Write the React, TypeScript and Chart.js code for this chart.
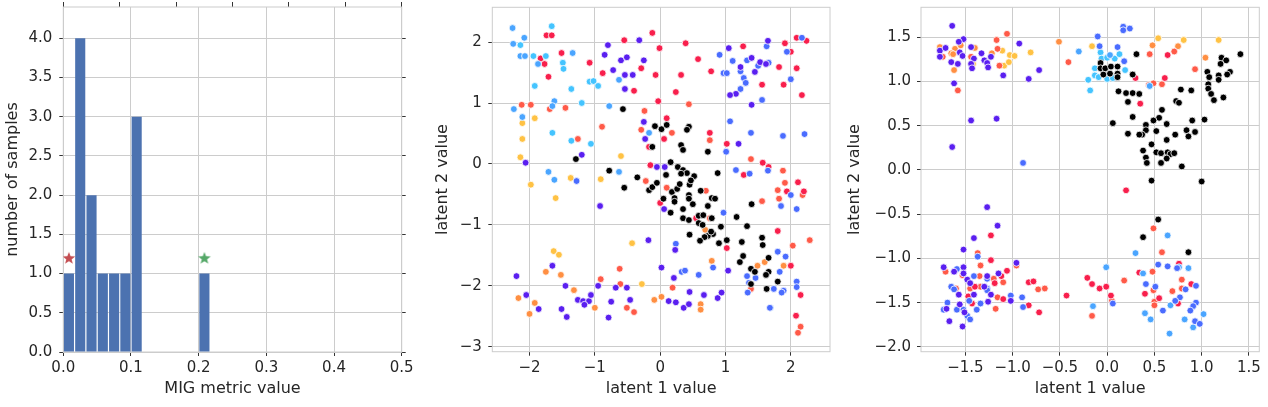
import React, { useEffect, useRef } from "react";
import { Chart, registerables } from "chart.js";

Chart.register(...registerables);

type Pt = [number, number];

// ---------- Panel 1: histogram of MIG metric values ----------
const migBinCenters = [0.0083, 0.025, 0.0417, 0.0584, 0.0751, 0.0917, 0.1084, 0.1251, 0.1418, 0.1585, 0.1751, 0.1918, 0.2085];
const migCounts = [1, 4, 2, 1, 1, 1, 3, 0, 0, 0, 0, 0, 1];
const migStarX = [0.0083, 0.2085];
const migStarY = [1.2, 1.2];
const migXTicks = [0, 0.1, 0.2, 0.3, 0.4, 0.5];
const migYTicks = [0, 0.5, 1, 1.5, 2, 2.5, 3, 3.5, 4];

// ---------- Panel 2: latent space (first model) ----------
const p2Ticks = [-3, -2, -1, 0, 1, 2];
const p2XTicks = [-2, -1, 0, 1, 2];
const p2Black: Pt[] = [
  [-0.57, 0.9], [-0.08, 0.62], [0.02, 0.57], [-0.12, 0.28], [-1.29, 0.08], [-0.78, -0.11], [-0.35, -0.22],
  [0.1, 0.64], [0.44, 0.61], [0.41, 0.56], [0.32, 0.31], [0.35, 0.23], [0.73, 0.2], [0.16, 0.03], [0.27, -0.05],
  [0.35, -0.1], [0.41, -0.15], [0.52, -0.2], [0.88, -0.15], [0.09, -0.18], [0.32, -0.16],
  [-0.55, -0.39], [-0.17, -0.43], [-0.12, -0.38], [-0.05, -0.31],
  [0.18, -0.46], [0.26, -0.41], [0.3, -0.33], [0.45, -0.34], [0.47, -0.27], [0.05, -0.57], [0.22, -0.56],
  [0.22, -0.62], [0.44, -0.51], [0.44, -0.57], [0.5, -0.66], [0.62, -0.44], [0.79, -0.56], [0.84, -0.57],
  [0.16, -0.8], [0.35, -0.74], [0.35, -0.89], [0.44, -0.92], [0.73, -0.69], [0.59, -0.85], [0.66, -0.84],
  [0.79, -0.89], [0.59, -0.97], [0.65, -1.0], [0.93, -1.03], [0.81, -1.15], [0.73, -1.18], [0.68, -1.2],
  [0.78, -1.11], [0.45, -1.16], [0.61, -1.26], [1.17, -0.87], [1.4, -0.66], [1.33, -1.02], [1.02, -1.25],
  [0.9, -1.3], [1.25, -1.28], [1.56, -1.21], [1.57, -1.33], [1.27, -1.51], [1.22, -1.61], [1.66, -1.54],
  [1.39, -1.72], [1.45, -1.77], [1.66, -1.77], [1.62, -1.82], [1.39, -1.97], [1.63, -2.05], [1.8, -1.93],
];
const p2Violet: Pt[] = [
  [-0.8, 1.95], [-0.85, 1.79], [-0.32, 2.03], [-0.72, 1.54], [-0.6, 1.7], [-0.51, 1.75], [-0.54, 1.46],
  [-0.42, 1.46], [-0.25, 1.7], [-0.54, 1.23], [-0.25, 0.69], [-0.23, 0.41], [-2.06, 0.02], [-1.2, 0.15],
  [-0.05, -0.05], [1.05, 1.9], [1.65, 2.02], [1.4, 1.74], [1.53, 1.67], [1.62, 1.64], [1.23, 1.59],
  [1.45, 1.51], [1.16, 1.15], [1.07, 1.13], [1.4, 0.97], [1.2, 0.33], [0.07, -0.05],
  [-0.92, -0.69], [-0.18, -1.25], [0.02, -1.7], [-1.65, -1.67], [-2.2, -1.84], [-1.45, -2.0], [-0.95, -2.0],
  [-0.68, -2.03], [-0.51, -2.03], [-2.05, -2.15], [-1.86, -2.38], [-1.51, -2.38], [-1.43, -2.51],
  [-1.26, -2.23], [-1.18, -2.25], [-1.09, -2.25], [-1.16, -2.31], [-1.06, -2.15], [-0.75, -2.26],
  [-0.79, -2.52], [-0.46, -2.23], [0.06, -0.74], [0.23, -1.41], [0.21, -1.87], [1.04, -1.75], [0.13, -2.25],
  [0.24, -2.27], [0.45, -2.1], [0.67, -2.15], [0.36, -2.36], [0.44, -2.3], [0.88, -2.2], [0.94, -2.11],
];
const p2Blue: Pt[] = [
  [1.63, 1.93], [2.17, 2.07], [1.94, 1.84], [0.91, 1.79], [1.11, 1.69], [1.33, 1.7], [1.5, 1.61], [1.66, 1.66],
  [1.23, 1.52], [0.97, 1.49], [1.02, 1.49], [1.28, 1.41], [1.31, 1.33], [1.23, 1.23], [2.0, 1.39], [1.56, 1.05],
  [1.07, 0.7], [1.01, 0.2], [1.39, 0.51], [1.88, 0.46], [2.21, 0.49], [1.65, -0.11], [1.16, -0.1], [1.37, -0.16],
  [-1.28, -0.28], [0.97, -0.8], [2.0, -0.51], [1.85, -0.69], [2.09, -0.74], [1.8, -1.44], [1.92, -1.52],
  [1.83, -1.77], [1.33, -1.84], [1.46, -1.87], [1.36, -1.95], [1.34, -2.11], [1.74, -2.05], [1.89, -2.08],
  [1.86, -2.11], [2.09, -1.93], [2.09, -2.02], [1.68, -2.36], [0.24, -1.31], [0.33, -1.77], [0.38, -1.75],
  [0.59, -1.82], [0.81, -1.7],
];
const p2SkyBlue: Pt[] = [
  [-2.26, 2.23], [-2.08, 2.07], [-2.25, 1.97], [-2.14, 1.77], [-2.07, 1.77], [-1.87, 1.64], [-1.34, 1.82],
  [-0.63, 1.38], [-2.24, 0.9], [-1.62, 1.03], [-1.65, 0.95], [-0.78, 0.95], [-2.11, 0.77], [-0.17, 0.51],
  [-0.63, -0.13], [-1.71, -0.13], [-1.62, -0.26], [1.69, -2.36],
];
const p2Cyan: Pt[] = [
  [-1.66, 2.26], [-2.14, 1.95], [-1.94, 1.77], [-1.75, 1.77], [-1.49, 1.66], [-1.48, 1.56], [-1.92, 1.28],
  [-1.36, 1.23], [-1.08, 1.35], [-1.02, 1.36], [-0.95, 1.28], [-1.2, 1.0], [-1.65, 0.51], [-1.36, 0.38],
  [-1.06, 0.33],
];
const p2Crimson: Pt[] = [
  [-1.83, 1.73], [-1.77, 1.64], [-1.74, 2.11], [-1.66, 2.11], [-1.51, 1.82], [-1.71, 1.43], [-1.08, 1.66],
  [-0.88, 1.49], [-0.55, 2.03], [-0.12, 2.15], [-0.01, 1.9], [-0.29, 1.57], [-0.4, 1.2], [-0.07, 1.46],
  [-0.03, 1.03], [-0.17, 0.28], [-0.15, -0.02], [0.39, 1.98], [0.58, 1.72], [0.78, 1.52], [0.32, 1.46],
  [0.24, 1.18], [1.27, 1.93], [1.91, 1.98], [2.09, 2.07], [2.24, 2.02], [2.0, 1.84], [1.82, 1.59], [2.09, 1.57],
  [1.56, 1.3], [1.89, 1.3], [2.17, 1.13], [0.1, 0.75], [0.06, 0.41], [0.76, 0.51], [1.02, 0.33], [1.57, 0.02],
  [1.66, -0.05], [1.28, -0.18], [0.0, -0.64], [0.55, -0.89], [1.02, -1.38], [2.11, -0.3], [1.94, -0.45],
  [2.2, -0.45], [1.8, -1.1], [2.0, -1.67], [2.15, -2.15], [2.08, -2.49],
];
const p2Tomato: Pt[] = [
  [-2.12, 0.97], [-1.98, 0.97], [-1.69, 0.9], [-1.45, 0.92], [-0.24, 0.87], [-0.29, 0.56], [-0.89, 0.61],
  [-1.26, 0.41], [0.44, 0.98], [0.18, 0.51], [0.76, 0.39], [1.39, 0.08], [1.88, -0.11], [-0.22, -0.28],
  [-0.91, -1.89], [-0.62, -1.72], [-0.61, -1.97], [-0.51, -2.36], [-0.4, -2.43], [0.1, -0.39], [0.7, -0.44],
  [0.76, -0.89], [1.56, -0.61], [1.8, -0.43], [1.91, -0.31], [1.82, -0.57], [2.18, -0.51], [2.29, -1.25],
  [2.03, -1.34], [1.39, -2.05], [0.19, -2.03], [2.15, -2.67], [2.11, -2.77],
];
const p2Orange: Pt[] = [
  [-1.75, -1.77], [-1.52, -1.82], [-1.32, -2.07], [-2.17, -2.2], [-1.92, -2.28], [-2.0, -2.46], [-1.0, -2.36],
  [-0.09, -2.23], [0.02, -2.18], [0.69, -1.08], [1.6, -1.61], [1.89, -1.67], [1.49, -1.67], [0.79, -1.59],
  [0.62, -2.3], [0.62, -2.39],
];
const p2Gold: Pt[] = [
  [-2.11, 0.67], [-1.92, 0.75], [-2.11, 0.41], [-2.14, 0.11], [-0.6, 0.13], [-1.98, -0.34], [-1.37, -0.23],
  [-0.91, -0.25], [-1.6, -0.56], [-0.43, -1.3], [-1.63, -1.43], [-1.55, -1.49], [-0.28, -1.97],
];

// ---------- Panel 3: latent space (second model) ----------
const p3XTicks = [-1.5, -1, -0.5, 0, 0.5, 1, 1.5];
const p3YTicks = [-2, -1.5, -1, -0.5, 0, 0.5, 1, 1.5];
const p3Black: Pt[] = [
  [0.31, 1.31], [1.21, 1.27], [1.26, 1.24], [1.2, 1.2], [1.41, 1.31], [1.3, 1.11], [1.27, 1.08], [1.06, 1.11],
  [1.08, 1.05], [1.18, 1.07], [1.18, 1.02], [1.07, 0.97], [1.07, 0.92], [1.1, 0.86], [1.13, 0.79], [1.23, 0.82],
  [-0.07, 1.21], [-0.07, 1.15], [-0.04, 1.08], [-0.02, 1.15], [0.04, 1.17], [0.03, 1.09], [0.11, 1.17],
  [0.11, 1.09], [0.11, 1.05], [0.27, 1.08], [0.12, 0.89], [0.2, 0.87], [0.27, 0.87], [0.34, 0.86], [0.22, 0.77],
  [0.78, 0.91], [0.89, 0.9], [0.73, 0.78], [0.76, 0.76], [0.58, 0.68], [0.27, 0.6], [0.06, 0.53], [0.55, 0.59],
  [0.49, 0.56], [0.63, 0.52], [0.41, 0.51], [0.9, 0.56], [1.03, 0.57], [0.41, 0.45], [0.52, 0.44], [0.37, 0.4],
  [0.34, 0.4], [0.22, 0.41], [0.72, 0.4], [0.84, 0.45], [0.93, 0.43], [0.86, 0.38], [0.63, 0.34], [0.47, 0.29],
  [0.38, 0.22], [0.52, 0.2], [0.57, 0.19], [0.64, 0.2], [0.67, 0.18], [0.71, 0.19], [0.41, 0.14], [0.42, 0.08],
  [0.63, 0.13], [0.57, 0.08], [0.79, 0.04], [0.47, -0.12], [1.0, -0.13], [0.54, -0.56], [0.38, -0.76],
  [0.86, -0.93],
];
const p3Violet: Pt[] = [
  [-1.64, 1.63], [-1.52, 1.48], [-1.57, 1.45], [-0.93, 1.43], [-1.77, 1.35], [-1.71, 1.38], [-1.56, 1.33],
  [-1.53, 1.29], [-1.44, 1.39], [-1.77, 1.28], [-1.65, 1.22], [-1.58, 1.2], [-1.41, 1.26], [-1.33, 1.32],
  [-1.3, 1.24], [-1.27, 1.21], [-1.26, 1.16], [-1.23, 1.28], [-1.44, 1.2], [-1.43, 1.15], [-1.1, 1.07],
  [-0.72, 1.13], [-0.83, 1.03], [-1.62, 0.98], [-1.44, 0.56], [-1.17, 0.58], [-1.64, 0.26],
  [-1.27, -0.42], [-1.16, -0.63], [-1.41, -0.77], [-1.52, -0.9], [-0.96, -1.05], [-1.73, -1.1], [-1.62, -1.15],
  [-1.52, -1.1], [-1.52, -1.17], [-1.48, -1.24], [-1.45, -1.28], [-1.27, -1.2], [-1.15, -1.17], [-1.3, -1.32],
  [-1.23, -1.41], [-1.41, -1.41], [-1.57, -1.41], [-1.02, -1.48], [-1.26, -1.49], [-1.56, -1.52],
  [-1.7, -1.57], [-1.51, -1.61], [-1.67, -1.71], [-1.53, -1.77],
];
const p3Blue: Pt[] = [
  [-0.89, 0.08], [0.17, 1.62], [0.17, 1.58], [0.24, 1.6], [-0.1, 1.51], [-0.08, 1.4], [0.11, 1.39], [0.18, 1.23],
  [-1.37, -0.98], [-1.59, -1.12], [-1.41, -1.2], [-1.27, -1.23], [-1.27, -1.34], [-1.27, -1.36], [-1.65, -1.32],
  [-1.62, -1.35], [-1.02, -1.42], [-0.9, -1.44], [-0.89, -1.55], [-1.34, -1.51], [-1.38, -1.58], [-1.46, -1.48],
  [-1.69, -1.5], [-1.73, -1.58], [-1.59, -1.58], [-1.52, -1.58], [-1.48, -1.65], [-1.45, -1.69],
  [0.54, -1.07], [0.64, -1.09], [0.74, -1.11], [0.06, -1.51], [0.41, -1.29], [0.51, -1.32], [0.59, -1.59],
  [0.94, -1.31], [0.83, -1.35], [0.77, -1.44], [0.72, -1.48], [0.94, -1.5], [0.91, -1.54], [0.88, -1.59],
  [0.93, -1.71], [0.98, -1.74],
];
const p3SkyBlue: Pt[] = [
  [-0.3, 1.34], [0.03, 1.3], [0.45, 0.95], [0.64, -0.74], [0.3, -0.94], [0.76, -1.1], [0.86, -1.11],
  [-0.01, -1.1], [-0.15, -1.54], [0.38, -1.17], [0.4, -1.62], [0.46, -1.69], [0.67, -1.53], [0.66, -1.85],
  [1.02, -1.63], [0.82, -1.69], [0.91, -1.78],
];
const p3Cyan: Pt[] = [
  [-0.2, 1.02], [-0.18, 0.9], [-0.07, 1.33], [-0.06, 1.26], [0.0, 1.27], [0.08, 1.26], [0.13, 1.31],
  [-0.13, 1.15], [-0.13, 1.07], [-0.09, 1.05], [0.0, 1.03], [0.06, 1.04], [0.19, 1.13],
];
const p3Crimson: Pt[] = [
  [0.64, 1.3], [0.3, 1.04], [0.61, 1.04], [0.35, 0.75], [-1.23, -0.74], [-1.23, -1.02], [-1.12, -1.2],
  [-1.19, -1.28], [-1.06, -1.14], [-1.4, -1.32], [-1.47, -1.43], [-1.1, -1.46], [-0.83, -1.27], [-0.78, -1.26],
  [-0.83, -1.53], [-0.72, -1.61], [-0.43, -1.42], [-0.21, -1.22], [-1.43, -1.51], [0.2, -0.23], [0.76, -1.06],
  [-0.16, -1.29], [-0.08, -1.34], [-0.01, -1.32], [0.04, -1.42], [0.34, -1.16], [0.4, -1.4], [0.55, -1.45],
  [0.89, -1.29], [0.75, -1.51],
];
const p3Tomato: Pt[] = [
  [-1.06, 1.54], [-1.17, 1.47], [-1.74, 1.28], [-1.44, 1.28], [-1.16, 1.37], [-1.14, 1.18], [-0.41, 1.22],
  [-1.58, 0.9], [0.45, 1.31], [0.71, 1.34], [0.93, 1.14], [0.44, 0.96], [0.49, 0.98], [0.58, 0.97],
  [-1.37, -0.94], [-1.34, -1.08], [-0.96, -1.08], [-1.71, -1.15], [-1.53, -1.19], [-1.35, -1.2], [-1.2, -1.23],
  [-1.1, -1.27], [-1.34, -1.32], [-1.45, -1.34], [-1.6, -1.34], [-1.16, -1.44], [-0.73, -1.35], [-0.66, -1.34],
  [-1.18, -1.57], [0.49, -0.66], [0.58, -0.93], [0.05, -1.48], [-0.16, -1.65], [0.18, -1.25], [0.48, -1.15],
  [0.49, -1.36], [0.5, -1.49], [0.5, -1.53], [0.79, -1.24], [0.79, -1.34], [0.69, -1.37],
];
const p3Orange: Pt[] = [
  [-0.51, 1.45], [-1.77, 1.39], [-1.61, 1.37], [-1.65, 1.32], [-1.63, 1.31], [-1.55, 1.41], [-1.4, 1.38],
  [-1.62, 1.13], [-1.22, 1.32], [0.48, 1.41], [0.75, 1.4], [1.04, 1.27],
];
const p3Gold: Pt[] = [
  [-1.11, 1.35], [-1.42, 1.2], [-1.09, 1.18], [-1.03, 1.3], [-0.98, 1.29], [-1.04, 1.22], [-0.81, 1.33],
  [-0.16, 1.4], [0.54, 1.49], [0.81, 1.47], [1.18, 1.47],
];

// ---------- styles ----------
const C = {
  black: "#000000",
  violet: "#5a1ff0",
  blue: "#4a6cff",
  skyBlue: "#4aa5ff",
  cyan: "#44c4ff",
  crimson: "#f81f4c",
  tomato: "#ff5a48",
  orange: "#ff8f42",
  gold: "#ffc244",
};
const FONT = "DejaVu Sans";
const TEXT = "#262626";
const GRID = "#cccccc";
const TICK = "#333333";
const TICK_SIZE = 15;
const TITLE_SIZE = 16;

function fmt(v: number, d: number) {
  return (v < 0 ? "\u2212" : "") + Math.abs(v).toFixed(d);
}

const framePlugin = {
  id: "frame",
  beforeDatasetsDraw(chart: any) {
    const { ctx, chartArea: a } = chart;
    ctx.save();
    ctx.strokeStyle = GRID;
    ctx.lineWidth = 1;
    ctx.strokeRect(a.left, a.top, a.right - a.left, a.bottom - a.top);
    ctx.restore();
  },
};

function fixSize(size: number, dim: "width" | "height") {
  return (scale: any) => {
    scale[dim] = size;
    scale.paddingTop = 0;
    scale.paddingBottom = 0;
    scale.paddingLeft = 0;
    scale.paddingRight = 0;
  };
}
function setTicks(values: number[]) {
  return (scale: any) => {
    scale.ticks = values.map((value) => ({ value }));
  };
}

function makeStar(color: string, r: number) {
  const size = Math.ceil(r * 2 + 2);
  const c = document.createElement("canvas");
  c.width = size;
  c.height = size;
  const ctx = c.getContext("2d")!;
  const cx = size / 2;
  const cy = size / 2 + r * 0.08;
  ctx.beginPath();
  for (let k = 0; k < 10; k++) {
    const rad = k % 2 === 0 ? r : r * 0.42;
    const a = -Math.PI / 2 + (k * Math.PI) / 5;
    ctx.lineTo(cx + rad * Math.cos(a), cy + rad * Math.sin(a));
  }
  ctx.closePath();
  ctx.fillStyle = color;
  ctx.fill();
  return c;
}

function axisX(o: any) {
  return {
    type: "linear",
    position: "bottom",
    min: o.min,
    max: o.max,
    offset: false,
    afterBuildTicks: setTicks(o.ticks),
    afterFit: fixSize(o.height, "height"),
    grid: { color: GRID, lineWidth: 1, offset: false, drawTicks: true, tickColor: TICK, tickLength: 4 },
    border: { display: false },
    ticks: {
      padding: 3.6,
      autoSkip: false,
      maxRotation: 0,
      color: TEXT,
      font: { family: FONT, size: TICK_SIZE },
      callback: (v: any) => fmt(Number(v), o.dec),
    },
    title: {
      display: true,
      text: o.title,
      color: TEXT,
      font: { family: FONT, size: TITLE_SIZE },
      padding: { top: 0, bottom: 8.2 },
    },
  };
}
function axisY(o: any) {
  return {
    type: "linear",
    position: "left",
    min: o.min,
    max: o.max,
    afterBuildTicks: setTicks(o.ticks),
    afterFit: fixSize(o.width, "width"),
    grid: { color: GRID, lineWidth: 1, drawTicks: true, tickColor: TICK, tickLength: 4 },
    border: { display: false },
    ticks: {
      padding: o.tickPad,
      color: TEXT,
      font: { family: FONT, size: TICK_SIZE },
      callback: (v: any) => fmt(Number(v), o.dec),
    },
    title: {
      display: true,
      text: o.title,
      color: TEXT,
      font: { family: FONT, size: TITLE_SIZE },
      padding: { top: o.titlePad, bottom: 0 },
    },
  };
}

const baseOptions = {
  responsive: false,
  animation: false,
  events: [],
  plugins: { legend: { display: false }, tooltip: { enabled: false } },
};

function histConfig(redStar: HTMLCanvasElement, greenStar: HTMLCanvasElement): any {
  return {
    type: "bar",
    data: {
      datasets: [
        {
          type: "scatter",
          data: [{ x: migStarX[0], y: migStarY[0] }],
          pointStyle: redStar,
          pointRadius: 6,
          order: 1,
        },
        {
          type: "scatter",
          data: [{ x: migStarX[1], y: migStarY[1] }],
          pointStyle: greenStar,
          pointRadius: 6,
          order: 1,
        },
        {
          type: "bar",
          data: migBinCenters.map((x, i) => ({ x, y: migCounts[i] })),
          backgroundColor: "#4c72b0",
          borderWidth: 0,
          barPercentage: 0.9,
          categoryPercentage: 1,
          order: 2,
        },
      ],
    },
    options: {
      ...baseOptions,
      layout: { padding: 0 },
      scales: {
        x: axisX({ min: 0, max: 0.5, ticks: migXTicks, height: 55, dec: 1, title: "MIG metric value" }),
        x2: {
          type: "linear",
          position: "top",
          min: 0,
          max: 0.5,
          afterBuildTicks: setTicks(migXTicks),
          afterFit: fixSize(6.7, "height"),
          grid: { drawOnChartArea: false, drawTicks: true, tickColor: TICK, tickLength: 5 },
          border: { display: false },
          ticks: { display: false },
        },
        y: axisY({ min: 0, max: 4.4, ticks: migYTicks, width: 63.3, dec: 1, tickPad: 7, titlePad: 3.7, title: "number of samples" }),
        y2: {
          type: "linear",
          position: "right",
          min: 0,
          max: 4.4,
          afterBuildTicks: setTicks(migYTicks),
          afterFit: fixSize(18.3, "width"),
          grid: { drawOnChartArea: false, drawTicks: true, tickColor: TICK, tickLength: 4 },
          border: { display: false },
          ticks: { display: false },
        },
      },
    },
    plugins: [framePlugin],
  };
}

function scatterConfig(groups: { pts: Pt[]; color: string }[], o: any): any {
  return {
    type: "scatter",
    data: {
      datasets: groups.map((g, i) => ({
        data: g.pts.map(([x, y]) => ({ x, y })),
        backgroundColor: g.color,
        borderColor: "#ffffff",
        borderWidth: 0.8,
        pointRadius: 3.4,
        order: groups.length - i,
      })),
    },
    options: {
      ...baseOptions,
      layout: { padding: { left: 0, top: 7.3, right: o.padRight, bottom: 0 } },
      scales: {
        x: axisX({ min: o.xMin, max: o.xMax, ticks: o.xTicks, height: 55.3, dec: o.dec, title: "latent 1 value" }),
        y: axisY({
          min: o.yMin,
          max: o.yMax,
          ticks: o.yTicks,
          width: o.yWidth,
          dec: o.dec,
          tickPad: o.tickPad,
          titlePad: o.titlePad,
          title: "latent 2 value",
        }),
      },
    },
    plugins: [framePlugin],
  };
}

export default function App() {
  const r1 = useRef<HTMLCanvasElement>(null);
  const r2 = useRef<HTMLCanvasElement>(null);
  const r3 = useRef<HTMLCanvasElement>(null);

  useEffect(() => {
    Chart.defaults.font.family = FONT;
    const redStar = makeStar("#c44e52", 6.6);
    const greenStar = makeStar("#55a868", 6.6);
    const c1 = new Chart(r1.current!, histConfig(redStar, greenStar));
    const c2 = new Chart(
      r2.current!,
      scatterConfig(
        [
          { pts: p2Gold, color: C.gold },
          { pts: p2Orange, color: C.orange },
          { pts: p2Tomato, color: C.tomato },
          { pts: p2Crimson, color: C.crimson },
          { pts: p2Cyan, color: C.cyan },
          { pts: p2SkyBlue, color: C.skyBlue },
          { pts: p2Blue, color: C.blue },
          { pts: p2Violet, color: C.violet },
          { pts: p2Black, color: C.black },
        ],
        {
          xMin: -2.57, xMax: 2.6, yMin: -3.08, yMax: 2.57,
          xTicks: p2XTicks, yTicks: p2Ticks, dec: 0,
          yWidth: 72.3, padRight: 10, tickPad: 6.5, titlePad: 13.7,
        }
      )
    );
    const c3 = new Chart(
      r3.current!,
      scatterConfig(
        [
          { pts: p3Gold, color: C.gold },
          { pts: p3Orange, color: C.orange },
          { pts: p3Tomato, color: C.tomato },
          { pts: p3Crimson, color: C.crimson },
          { pts: p3Cyan, color: C.cyan },
          { pts: p3SkyBlue, color: C.skyBlue },
          { pts: p3Blue, color: C.blue },
          { pts: p3Violet, color: C.violet },
          { pts: p3Black, color: C.black },
        ],
        {
          xMin: -1.97, xMax: 1.61, yMin: -2.055, yMax: 1.84,
          xTicks: p3XTicks, yTicks: p3YTicks, dec: 1,
          yWidth: 81, padRight: 8.7, tickPad: 6, titlePad: 5.4,
        }
      )
    );
    return () => {
      c1.destroy();
      c2.destroy();
      c3.destroy();
    };
  }, []);

  const cv = (left: number, width: number) => ({
    position: "absolute" as const,
    left,
    top: 0,
    width,
    height: 407,
  });

  return (
    <div style={{ position: "absolute", left: 0, top: 0, width: 1268, height: 407, background: "#ffffff" }}>
      <canvas ref={r1} width={420} height={407} style={cv(0, 420)} />
      <canvas ref={r2} width={420} height={407} style={cv(420, 420)} />
      <canvas ref={r3} width={428} height={407} style={cv(840, 428)} />
    </div>
  );
}
